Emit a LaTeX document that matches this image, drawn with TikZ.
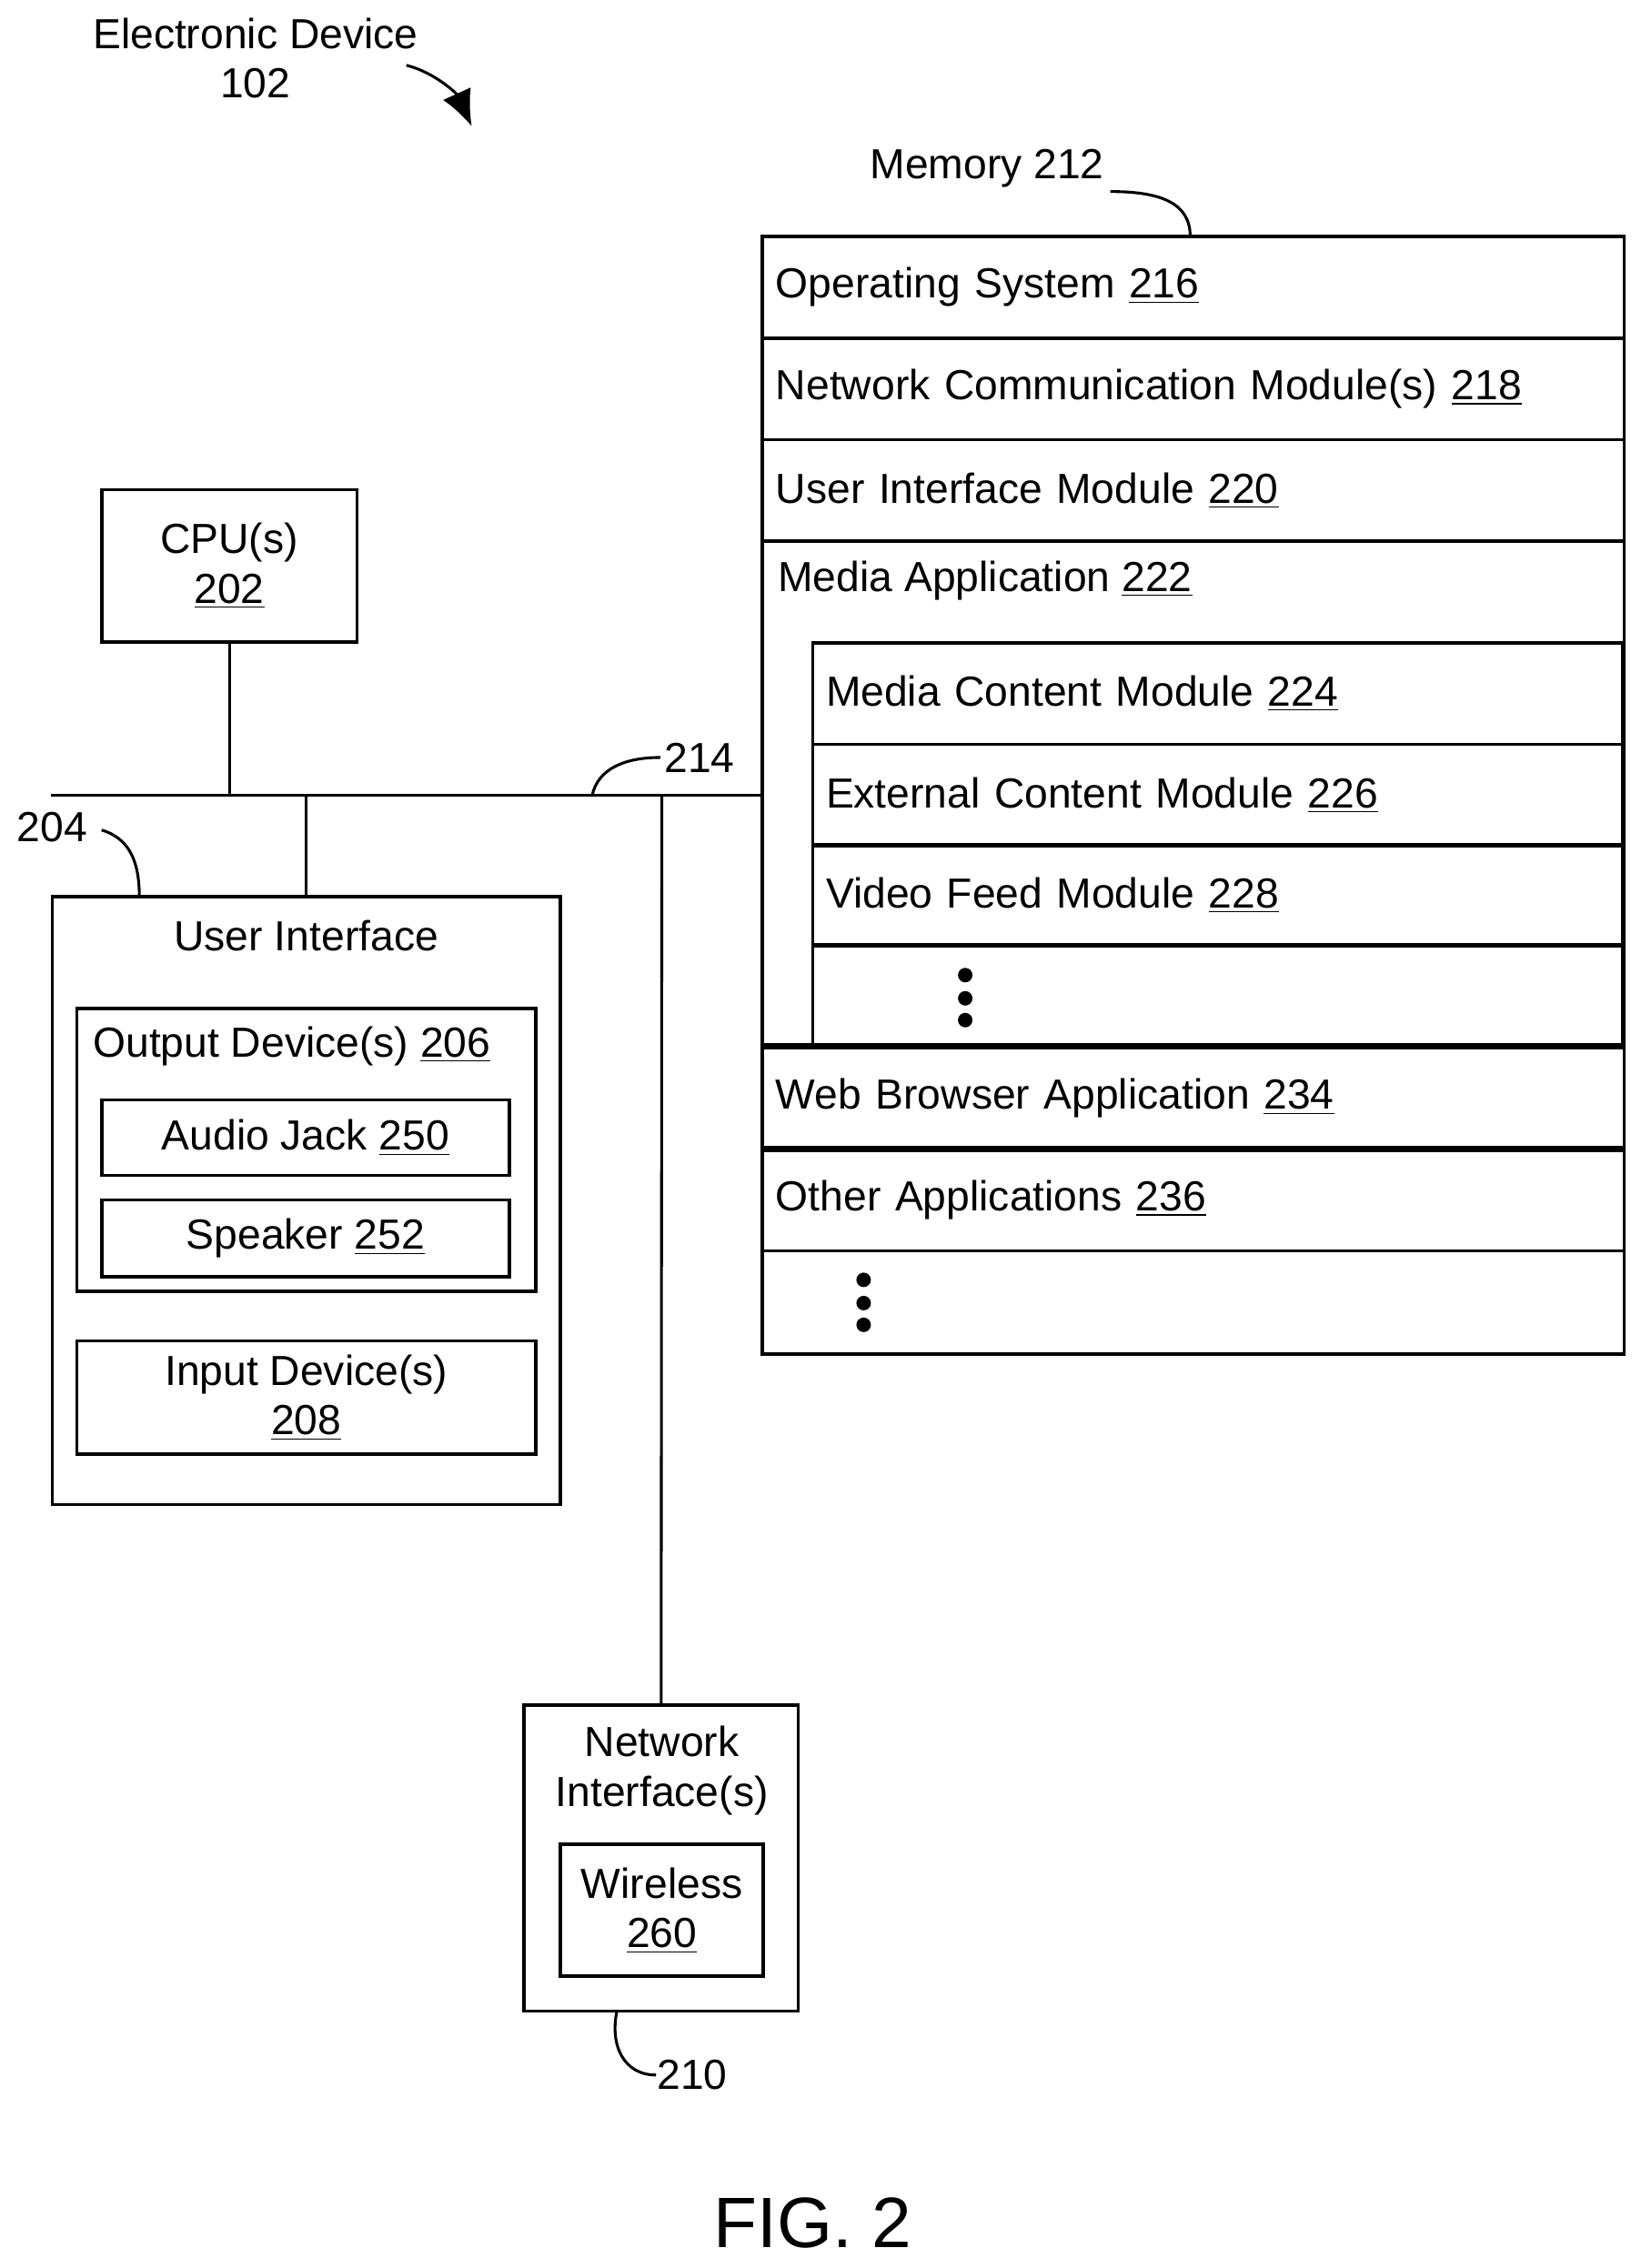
\documentclass[tikz,border=0pt]{standalone}
\usepackage{fontspec}
\setmainfont{Liberation Sans}
\usetikzlibrary{positioning,arrows.meta}
\tikzset{
  box/.style={draw, line width=1.3pt, inner sep=0pt},
  row/.style={box, minimum height=1.4cm, text width=#1, align=left},
  lbl/.style={align=center, inner sep=1pt},
  lead/.style={line width=1.1pt},
  dot/.style={circle, fill=black, inner sep=0pt, minimum size=0.2cm},
}
\begin{document}
\fontsize{16.5}{19.5}\selectfont
\begin{tikzpicture}[x=0.02cm, y=-0.02cm]
  \useasboundingbox (0,0) rectangle (1130,1563);
  % title
  \node[lbl] (dev) at (176,40) {Electronic Device\\102};
  \coordinate (devA) at (280,45);
  \coordinate (devB) at (325,87);
  \draw[lead, -{Latex[length=14pt,width=12pt]}] (devA) .. controls (300,50) and (315,65) .. (devB);
  % memory
  \node[lbl] (mem) at (680,116) {Memory 212};
  \draw[box] (525,163) rectangle (1119,933);
  \node[row=11.5cm, minimum width=11.88cm] (os) at (822,198) {Operating System \underline{216}};
  \node[row=11.5cm, minimum width=11.88cm] (ncm) at (822,268) {Network Communication Module(s) \underline{218}};
  \node[row=11.5cm, minimum width=11.88cm] (uim) at (822,338) {User Interface Module \underline{220}};
  \node[lbl, anchor=west] (media) at (534,400) {Media Application \underline{222}};
  \node[row=10.8cm, minimum width=11.16cm] (mcm) at (839,478) {Media Content Module \underline{224}};
  \node[row=10.8cm, minimum width=11.16cm] (ecm) at (839,548) {External Content Module \underline{226}};
  \node[row=10.8cm, minimum width=11.16cm] (vfm) at (839,617) {Video Feed Module \underline{228}};
  \node[row=10.8cm, minimum width=11.16cm] (more) at (839,686) {};
  \draw[line width=2.6pt] (525,721) -- (1119,721);
  \node[row=11.5cm, minimum width=11.88cm] (web) at (822,757) {Web Browser Application \underline{234}};
  \draw[line width=2.6pt] (525,792) -- (1119,792);
  \node[row=11.5cm, minimum width=11.88cm] (other) at (822,827) {Other Applications \underline{236}};
  \foreach \y in {672,688,703} \node[dot] at (665,\y) {};
  \foreach \y in {882,898,913} \node[dot] at (595,\y) {};
  \draw[lead] (765,132) .. controls (800,132) and (820,140) .. (820,163);
  % cpu
  \node[box, minimum width=3.52cm, minimum height=2.1cm, align=center] (cpu) at (158,390) {CPU(s)\\\underline{202}};
  % bus
  \coordinate (busL) at (35,548);
  \coordinate (busR) at (525,548);
  \draw[lead] (busL) -- (busR);
  \draw[lead] (cpu.south) -- (158,548);
  \node[lbl] (n214) at (482,522) {214};
  \draw[lead] (408,548) .. controls (412,530) and (430,522) .. (455,522);
  % user interface
  \node[box, minimum width=7cm, minimum height=8.38cm] (ui) at (211,827.5) {};
  \node[lbl] (uit) at (211,645) {User Interface};
  \draw[lead] (211,548) -- (ui.north);
  \node[lbl] (n204) at (36,570) {204};
  \draw[lead] (70,572) .. controls (90,578) and (96,595) .. (96,618);
  \node[box, minimum width=6.32cm, minimum height=3.9cm] (out) at (211,792.5) {};
  \node[lbl, anchor=west] (outt) at (62,721) {Output Device(s) \underline{206}};
  \node[box, minimum width=5.62cm, minimum height=1.04cm] (jack) at (210.5,784) {Audio Jack \underline{250}};
  \node[box, minimum width=5.62cm, minimum height=1.06cm] (spk) at (210.5,853.5) {Speaker \underline{252}};
  \node[box, minimum width=6.32cm, minimum height=1.56cm, align=center] (inp) at (211,963) {Input Device(s)\\\underline{208}};
  % network
  \node[box, minimum width=3.78cm, minimum height=4.22cm] (net) at (455.5,1280.5) {};
  \node[lbl] (nett) at (456,1220) {Network\\Interface(s)};
  \node[box, minimum width=2.8cm, minimum height=1.82cm, align=center] (wl) at (456,1316.5) {Wireless\\\underline{260}};
  \draw[lead] (456,548) -- (net.north);
  \node[lbl] (n210) at (477,1430) {210};
  \draw[lead] (425,1386) .. controls (420,1410) and (430,1430) .. (452,1430);
  \node[lbl] (fig) at (560,1532) {\fontsize{28}{33}\selectfont FIG. 2};
\end{tikzpicture}
\end{document}
